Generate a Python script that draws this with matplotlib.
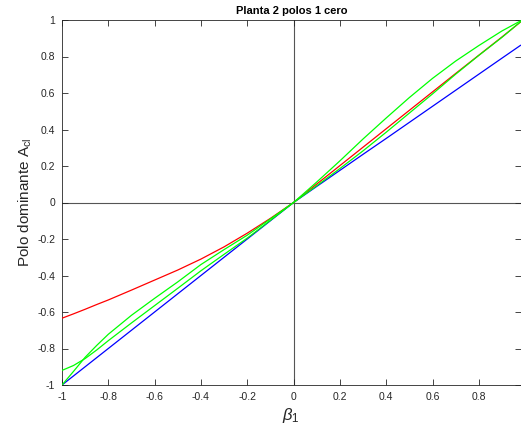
import numpy as np
import matplotlib
matplotlib.use("Agg")
import matplotlib.pyplot as plt
from matplotlib.ticker import FuncFormatter

plt.rcParams['font.family'] = ['Liberation Sans', 'DejaVu Sans']
plt.rcParams['mathtext.fontset'] = 'custom'
plt.rcParams['mathtext.rm'] = 'Liberation Sans'
plt.rcParams['mathtext.it'] = 'Liberation Sans:italic'

# beta_1 values
beta = [-1, -0.95, -0.9, -0.85, -0.8, -0.7, -0.6, -0.5, -0.4, -0.3, -0.2, -0.1, 0,
        0.1, 0.2, 0.3, 0.4, 0.5, 0.6, 0.7, 0.8, 0.9, 0.98]

blue = [-1, -0.95, -0.9, -0.85, -0.8, -0.7, -0.6, -0.5, -0.4, -0.3, -0.2, -0.1, 0,
        0.088, 0.176, 0.264, 0.351, 0.439, 0.527, 0.615, 0.703, 0.791, 0.861]
red = [-0.634, -0.61, -0.585, -0.559, -0.534, -0.48, -0.425, -0.37, -0.31, -0.243, -0.168, -0.087, 0,
       0.101, 0.202, 0.303, 0.404, 0.505, 0.606, 0.707, 0.807, 0.907, 0.989]
green_a = [-0.92, -0.893, -0.855, -0.808, -0.757, -0.66, -0.565, -0.47, -0.374, -0.284, -0.195, -0.098, 0,
           0.112, 0.228, 0.348, 0.463, 0.575, 0.68, 0.775, 0.86, 0.94, 0.995]
green_b = [-1, -0.925, -0.848, -0.783, -0.722, -0.618, -0.525, -0.435, -0.34, -0.258, -0.179, -0.09, 0,
           0.092, 0.186, 0.283, 0.385, 0.49, 0.595, 0.703, 0.806, 0.905, 0.99]

xticks = [-1, -0.8, -0.6, -0.4, -0.2, 0, 0.2, 0.4, 0.6, 0.8]
yticks = [-1, -0.8, -0.6, -0.4, -0.2, 0, 0.2, 0.4, 0.6, 0.8, 1]

axcol = '#262626'

fig = plt.figure(figsize=(5.21, 4.32), dpi=100)
ax = fig.add_axes([62/521, 1-385/432, 458.5/521, 365/432])

ax.axhline(0, color='#555555', lw=0.8, zorder=1)
ax.axvline(0, color='#555555', lw=0.8, zorder=1)

ax.plot(beta, blue, color=(0, 0, 1), lw=0.9, zorder=3)
ax.plot(beta, red, color=(1, 0, 0), lw=0.9, zorder=3)
ax.plot(beta, green_a, color=(0, 1, 0), lw=0.9, zorder=3)
ax.plot(beta, green_b, color=(0, 1, 0), lw=0.9, zorder=3)

ax.set_xlim(-1, 0.98)
ax.set_ylim(-1, 1)
ax.set_xticks(xticks)
ax.set_yticks(yticks)
fmt = FuncFormatter(lambda v, p: '%g' % v)
ax.xaxis.set_major_formatter(fmt)
ax.yaxis.set_major_formatter(fmt)
ax.tick_params(direction='in', length=4, width=0.6, colors=axcol, labelsize=7.5,
               top=True, right=True, pad=5)
for s in ax.spines.values():
    s.set_color(axcol)
    s.set_linewidth(0.6)

ax.set_title('Planta 2 polos 1 cero', fontsize=8, fontweight='bold', color='black', pad=4)
ax.set_ylabel(r'Polo dominante A$_{\rm cl}$', fontsize=11, color=axcol, labelpad=2)
ax.set_xlabel(r'$\beta_{\rm 1}$', fontsize=12, color=axcol, labelpad=3)

fig.savefig('out.png', dpi=100)
